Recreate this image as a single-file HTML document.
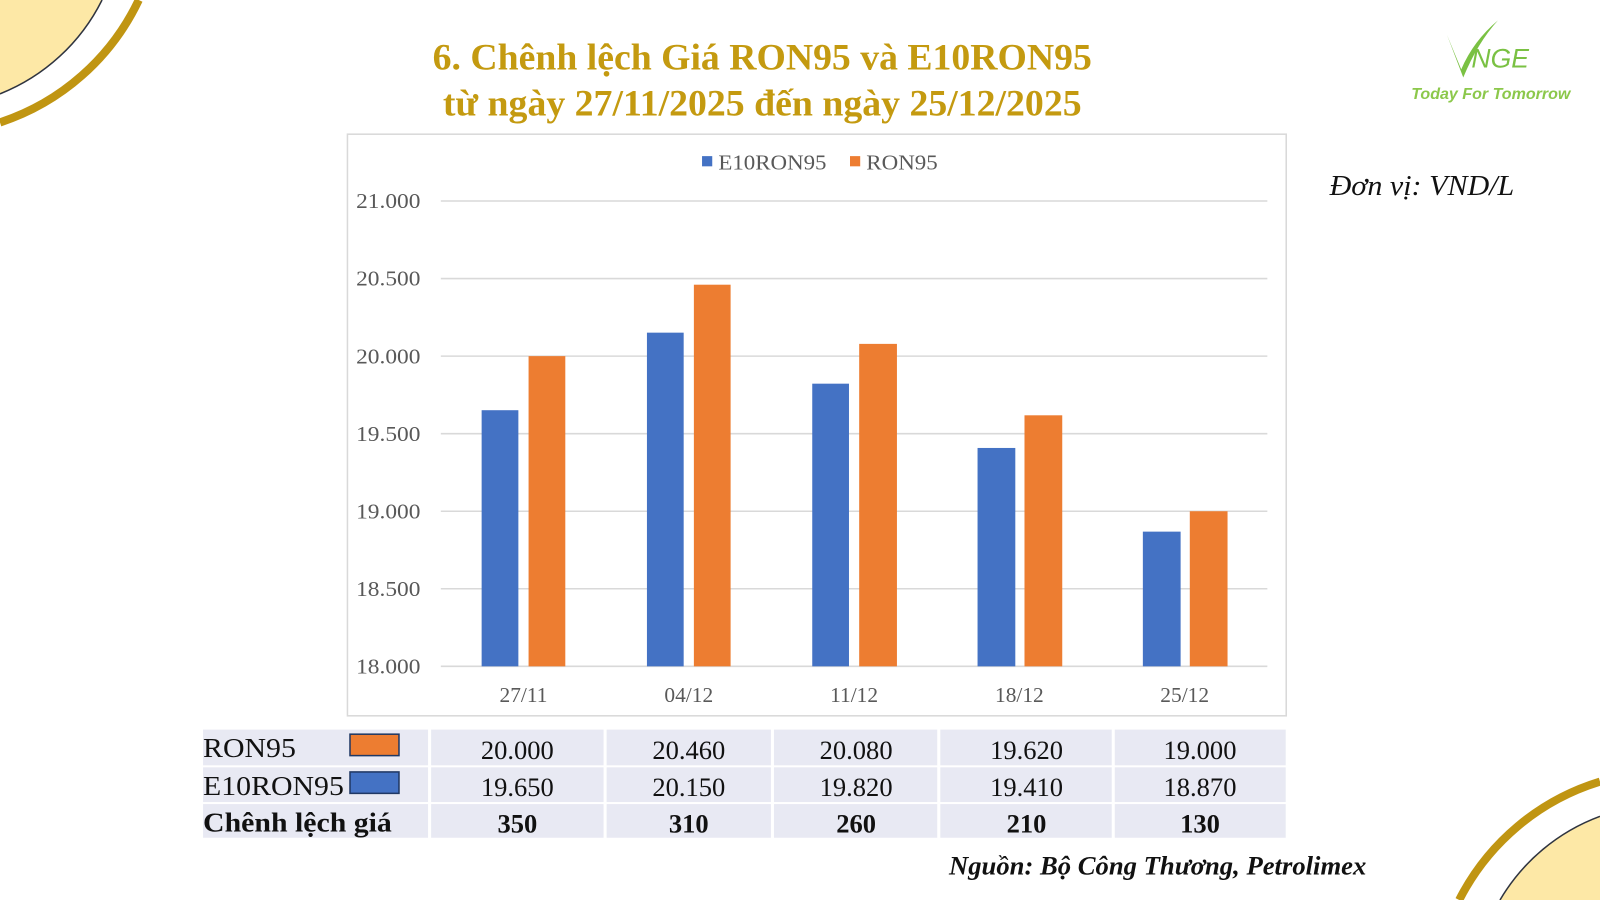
<!DOCTYPE html>
<html><head><meta charset="utf-8"><style>
html,body{margin:0;padding:0;background:#fff;overflow:hidden}
svg{display:block}
</style></head><body>
<svg width="1600" height="900" viewBox="0 0 1568 882" preserveAspectRatio="none" xmlns="http://www.w3.org/2000/svg" font-family="'Liberation Serif', serif">
<rect width="1568" height="882" fill="#fff"/>
<path d="M0,0 L100,0 A190,190 0 0 1 0,92 Z" fill="#fde8a6"/>
<path d="M100,0 A190,190 0 0 1 0,92" fill="none" stroke="#2f3440" stroke-width="1.5"/>
<path d="M136,0 A230,230 0 0 1 0,120" fill="none" stroke="#c09512" stroke-width="8"/>
<path d="M1568,882 L1470,882 A190,190 0 0 1 1568,800 Z" fill="#fde8a6"/>
<path d="M1470,882 A190,190 0 0 1 1568,800" fill="none" stroke="#2f3440" stroke-width="1.5"/>
<path d="M1430,882 A230,230 0 0 1 1568,766" fill="none" stroke="#c09512" stroke-width="8"/>
<g fill="#c49a10" font-weight="bold" font-size="36" text-anchor="middle">
<text x="747" y="68" textLength="646" lengthAdjust="spacingAndGlyphs">6. Chênh lệch Giá RON95 và E10RON95</text>
<text x="747" y="113" textLength="626" lengthAdjust="spacingAndGlyphs">từ ngày 27/11/2025 đến ngày 25/12/2025</text>
</g>
<path d="M1418,34 L1432,68 Q1444,40 1468,20 Q1448,42 1434,76 Z" fill="#7ac143"/>
<text x="1442" y="66" font-family="'Liberation Sans',sans-serif" font-style="italic" font-size="26" fill="#7ac143">NGE</text>
<text x="1461" y="97" text-anchor="middle" font-family="'Liberation Sans',sans-serif" font-style="italic" font-weight="bold" font-size="15" fill="#8cc84b" textLength="156" lengthAdjust="spacingAndGlyphs">Today For Tomorrow</text>
<text x="1303" y="191" font-style="italic" font-size="28" fill="#111" textLength="181" lengthAdjust="spacingAndGlyphs">Đơn vị: VND/L</text>
<rect x="340.5" y="131.5" width="920" height="570" fill="#fff" stroke="#d9d9d9" stroke-width="1.5"/>
<rect x="688" y="153" width="10" height="10" fill="#4472c4"/>
<text x="704" y="166" font-size="21" fill="#595959" textLength="106" lengthAdjust="spacingAndGlyphs">E10RON95</text>
<rect x="833" y="153" width="10" height="10" fill="#ed7d31"/>
<text x="849" y="166" font-size="21" fill="#595959" textLength="70" lengthAdjust="spacingAndGlyphs">RON95</text>
<g stroke="#d9d9d9" stroke-width="1.5">
<line x1="432" x2="1242" y1="197" y2="197"/><line x1="432" x2="1242" y1="273" y2="273"/>
<line x1="432" x2="1242" y1="349" y2="349"/><line x1="432" x2="1242" y1="425" y2="425"/>
<line x1="432" x2="1242" y1="501" y2="501"/><line x1="432" x2="1242" y1="577" y2="577"/>
<line x1="432" x2="1242" y1="653" y2="653"/>
</g>
<g font-size="21" fill="#595959" text-anchor="end">
<text x="412" y="204" textLength="63" lengthAdjust="spacingAndGlyphs">21.000</text><text x="412" y="280" textLength="63" lengthAdjust="spacingAndGlyphs">20.500</text><text x="412" y="356" textLength="63" lengthAdjust="spacingAndGlyphs">20.000</text>
<text x="412" y="432" textLength="63" lengthAdjust="spacingAndGlyphs">19.500</text><text x="412" y="508" textLength="63" lengthAdjust="spacingAndGlyphs">19.000</text><text x="412" y="584" textLength="63" lengthAdjust="spacingAndGlyphs">18.500</text><text x="412" y="660" textLength="63" lengthAdjust="spacingAndGlyphs">18.000</text>
</g>
<g fill="#4472c4">
<rect x="472" y="402" width="36" height="251"/><rect x="634" y="326" width="36" height="327"/>
<rect x="796" y="376" width="36" height="277"/><rect x="958" y="439" width="37" height="214"/>
<rect x="1120" y="521" width="37" height="132"/>
</g>
<g fill="#ed7d31">
<rect x="518" y="349" width="36" height="304"/><rect x="680" y="279" width="36" height="374"/>
<rect x="842" y="337" width="37" height="316"/><rect x="1004" y="407" width="37" height="246"/>
<rect x="1166" y="501" width="37" height="152"/>
</g>
<g font-size="21" fill="#595959" text-anchor="middle">
<text x="513" y="688">27/11</text><text x="675" y="688">04/12</text><text x="837" y="688">11/12</text>
<text x="999" y="688">18/12</text><text x="1161" y="688">25/12</text>
</g>
<g fill="#e8e9f3">
<rect x="199" y="715" width="1061" height="35"/><rect x="199" y="752" width="1061" height="34"/><rect x="199" y="788" width="1061" height="33"/>
</g>
<g stroke="#fff" stroke-width="3">
<line x1="421" x2="421" y1="713" y2="823"/><line x1="593" x2="593" y1="713" y2="823"/>
<line x1="757" x2="757" y1="713" y2="823"/><line x1="920" x2="920" y1="713" y2="823"/><line x1="1091" x2="1091" y1="713" y2="823"/>
</g>
<rect x="343" y="719.5" width="48" height="21" fill="#ed7d31" stroke="#203864" stroke-width="1.5"/>
<rect x="343" y="756.5" width="48" height="21" fill="#4472c4" stroke="#203864" stroke-width="1.5"/>
<g font-size="27" fill="#111">
<text x="199" y="742" textLength="91" lengthAdjust="spacingAndGlyphs">RON95</text><text x="199" y="779" textLength="138" lengthAdjust="spacingAndGlyphs">E10RON95</text>
<text x="199" y="815" font-weight="bold" textLength="185" lengthAdjust="spacingAndGlyphs">Chênh lệch giá</text>
</g>
<g font-size="26" fill="#111" text-anchor="middle">
<text x="507" y="744">20.000</text><text x="675" y="744">20.460</text><text x="839" y="744">20.080</text><text x="1006" y="744">19.620</text><text x="1176" y="744">19.000</text>
<text x="507" y="780">19.650</text><text x="675" y="780">20.150</text><text x="839" y="780">19.820</text><text x="1006" y="780">19.410</text><text x="1176" y="780">18.870</text>
<g font-weight="bold"><text x="507" y="816">350</text><text x="675" y="816">310</text><text x="839" y="816">260</text><text x="1006" y="816">210</text><text x="1176" y="816">130</text></g>
</g>
<text x="1339" y="857" text-anchor="end" font-size="26" font-style="italic" font-weight="bold" fill="#111" textLength="409" lengthAdjust="spacingAndGlyphs">Nguồn: Bộ Công Thương, Petrolimex</text>
</svg>
</body></html>
